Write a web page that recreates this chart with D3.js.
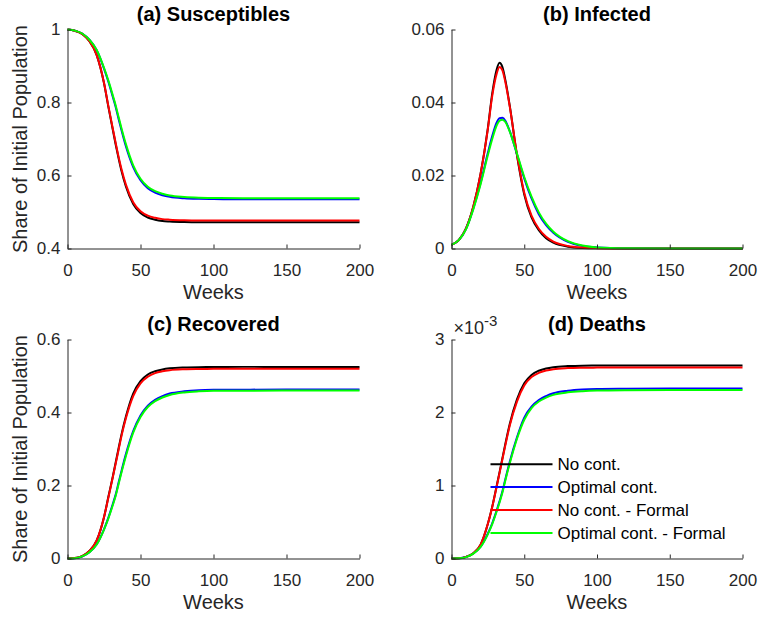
<!DOCTYPE html>
<html>

<head>
	<title>Epidemic paths</title>
	<meta charset="utf-8">
	<script src="https://cdn.jsdelivr.net/npm/d3@7"></script>
</head>

<style>
	body {
		margin: 0;
		background: #fff;
	}

	text {
		font-family: "Liberation Sans", Arial, Helvetica, sans-serif;
	}

	.axis path,
	.axis line {
		stroke: #262626;
		stroke-width: 1;
	}

	.axis text {
		font-size: 17px;
		fill: #262626;
	}

	.curve {
		fill: none;
		stroke-width: 2;
	}

	.title {
		font-size: 20px;
		font-weight: bold;
		text-anchor: middle;
		fill: #000;
	}

	.label {
		font-size: 20px;
		fill: #262626;
		text-anchor: middle;
	}

	.legend text {
		font-size: 17px;
		fill: #000;
	}
</style>

<body>
	<svg width="759" height="620"></svg>

	<script>
		var weeks = [0, 5, 10, 15, 20, 25, 28, 31, 33, 35, 37, 40, 45, 50, 55, 60, 65, 70, 80, 90, 100, 120, 150, 200];
		var weekTicks = [0, 50, 100, 150, 200];

		var seriesNames = ['No cont.', 'Optimal cont.', 'No cont. - Formal', 'Optimal cont. - Formal'];
		var seriesColors = ['#000000', '#0000ff', '#ff0000', '#00ff00'];

		// (a) susceptibles, share of initial population
		var susNoCont = [1.000, 0.9965, 0.988, 0.968, 0.930, 0.853, 0.788, 0.726, 0.685, 0.647, 0.612, 0.570, 0.522, 0.497, 0.485, 0.479, 0.4755, 0.474, 0.4725, 0.472, 0.472, 0.472, 0.472, 0.472];
		var susOptimal = [1.000, 0.997, 0.989, 0.972, 0.943, 0.893, 0.857, 0.816, 0.788, 0.755, 0.724, 0.680, 0.623, 0.587, 0.565, 0.553, 0.546, 0.5415, 0.5375, 0.536, 0.5355, 0.535, 0.535, 0.535];
		var susNoContFormal = [1.000, 0.9965, 0.988, 0.968, 0.930, 0.854, 0.790, 0.729, 0.689, 0.651, 0.617, 0.575, 0.527, 0.502, 0.490, 0.484, 0.4805, 0.479, 0.4775, 0.477, 0.477, 0.477, 0.477, 0.477];
		var susOptimalFormal = [1.000, 0.997, 0.989, 0.972, 0.944, 0.895, 0.860, 0.820, 0.792, 0.760, 0.729, 0.686, 0.628, 0.591, 0.569, 0.557, 0.550, 0.545, 0.541, 0.5392, 0.5385, 0.538, 0.538, 0.538];

		// (b) infected
		var infNoCont = [0.0010, 0.0023, 0.0055, 0.0115, 0.0205, 0.0330, 0.0425, 0.0490, 0.0509, 0.0497, 0.0462, 0.0392, 0.0255, 0.0148, 0.0085, 0.0050, 0.0028, 0.0016, 0.0005, 0.00015, 0.00005, 0, 0, 0];
		var infOptimal = [0.0010, 0.0023, 0.0054, 0.0110, 0.0180, 0.0262, 0.0308, 0.0345, 0.0357, 0.0358, 0.0350, 0.0322, 0.0258, 0.0192, 0.0137, 0.0094, 0.0064, 0.0043, 0.0018, 0.0007, 0.0003, 0.00005, 0, 0];
		var infNoContFormal = [0.0010, 0.0023, 0.0055, 0.0115, 0.0205, 0.0328, 0.0418, 0.0478, 0.0497, 0.0488, 0.0456, 0.0390, 0.0258, 0.0153, 0.0090, 0.0054, 0.0032, 0.0019, 0.0007, 0.00025, 0.0001, 0.00001, 0, 0];
		var infOptimalFormal = [0.0010, 0.0023, 0.0053, 0.0108, 0.0176, 0.0256, 0.0300, 0.0337, 0.0350, 0.0353, 0.0347, 0.0321, 0.0260, 0.0196, 0.0142, 0.0099, 0.0068, 0.0046, 0.0020, 0.0008, 0.0003, 0.00006, 0, 0];

		// (c) recovered
		var recNoCont = [0, 0.0012, 0.0065, 0.0204, 0.0494, 0.113, 0.169, 0.224, 0.263, 0.302, 0.340, 0.389, 0.452, 0.486, 0.504, 0.513, 0.518, 0.521, 0.5235, 0.5243, 0.5245, 0.525, 0.525, 0.525];
		var recOptimal = [0, 0.0007, 0.0056, 0.017, 0.039, 0.080, 0.112, 0.149, 0.175, 0.208, 0.240, 0.286, 0.349, 0.392, 0.419, 0.435, 0.445, 0.452, 0.458, 0.461, 0.462, 0.4625, 0.463, 0.463];
		var recNoContFormal = [0, 0.0012, 0.0065, 0.0204, 0.0494, 0.113, 0.167, 0.222, 0.260, 0.298, 0.336, 0.384, 0.445, 0.480, 0.498, 0.508, 0.513, 0.516, 0.5185, 0.5193, 0.5196, 0.520, 0.520, 0.520];
		var recOptimalFormal = [0, 0.0007, 0.0057, 0.0172, 0.0384, 0.0794, 0.110, 0.146, 0.172, 0.204, 0.236, 0.281, 0.345, 0.388, 0.415, 0.431, 0.441, 0.448, 0.455, 0.458, 0.4595, 0.4598, 0.460, 0.460];

		// (d) deaths, in units of 10^-3 of initial population
		var deathsNoCont = [0, 0.003, 0.023, 0.073, 0.19, 0.475, 0.71, 0.99, 1.18, 1.375, 1.57, 1.84, 2.18, 2.40, 2.515, 2.572, 2.603, 2.621, 2.636, 2.642, 2.643, 2.645, 2.645, 2.645];
		var deathsOptimal = [0, 0.002, 0.02, 0.068, 0.163, 0.342, 0.483, 0.656, 0.782, 0.92, 1.087, 1.323, 1.66, 1.93, 2.08, 2.17, 2.225, 2.264, 2.299, 2.316, 2.323, 2.327, 2.33, 2.33];
		var deathsNoContFormal = [0, 0.003, 0.023, 0.073, 0.19, 0.475, 0.705, 0.98, 1.17, 1.36, 1.55, 1.82, 2.15, 2.37, 2.485, 2.543, 2.575, 2.594, 2.608, 2.613, 2.615, 2.617, 2.617, 2.617];
		var deathsOptimalFormal = [0, 0.002, 0.019, 0.066, 0.158, 0.334, 0.472, 0.643, 0.768, 0.905, 1.07, 1.30, 1.64, 1.90, 2.06, 2.15, 2.205, 2.242, 2.276, 2.292, 2.30, 2.305, 2.307, 2.307];

		var susTicks = [0.4, 0.6, 0.8, 1];
		var infTicks = [0, 0.02, 0.04, 0.06];
		var recTicks = [0, 0.2, 0.4, 0.6];
		var deathTicks = [0, 1, 2, 3];

		var panels = [
			{ title: '(a) Susceptibles', col: 0, row: 0, ticks: susTicks, ylabel: true,
				series: [susNoCont, susOptimal, susNoContFormal, susOptimalFormal] },
			{ title: '(b) Infected', col: 1, row: 0, ticks: infTicks, ylabel: false,
				series: [infNoCont, infOptimal, infNoContFormal, infOptimalFormal] },
			{ title: '(c) Recovered', col: 0, row: 1, ticks: recTicks, ylabel: true,
				series: [recNoCont, recOptimal, recNoContFormal, recOptimalFormal] },
			{ title: '(d) Deaths', col: 1, row: 1, ticks: deathTicks, ylabel: false, exponent: true, legend: true,
				series: [deathsNoCont, deathsOptimal, deathsNoContFormal, deathsOptimalFormal] }
		];

		var cols = [{ x: 67, w: 292 }, { x: 451, w: 291 }];
		var rows = [{ y: 29, h: 219 }, { y: 339, h: 219 }];

		var svg = d3.select('svg');
		var fmt = d3.format('~g');

		panels.forEach(function(p) {
			var c = cols[p.col],
				r = rows[p.row];

			var x = d3.scaleLinear()
				.domain([0, 200])
				.range([0, c.w]);

			var y = d3.scaleLinear()
				.domain(d3.extent(p.ticks))
				.range([r.h, 0]);

			var g = svg.append('g')
				.attr('transform', 'translate(' + (c.x + 0.5) + ',' + (r.y + 0.5) + ')');

			// curves, in legend order so green ends on top
			var line = d3.line()
				.x(function(d) { return x(d[0]); })
				.y(function(d) { return y(d[1]); })
				.curve(d3.curveMonotoneX);

			g.selectAll('path.curve')
				.data(p.series)
				.enter()
				.append('path')
				.attr('class', 'curve')
				.attr('stroke', function(d, i) { return seriesColors[i]; })
				.attr('d', function(d) {
					return line(weeks.map(function(w, i) { return [w, d[i]]; }));
				});

			// axes, ticks pointing inwards like matlab
			g.append('g')
				.attr('class', 'axis')
				.attr('transform', 'translate(0,' + r.h + ')')
				.call(d3.axisBottom(x)
					.tickValues(weekTicks)
					.tickSizeInner(-4)
					.tickSizeOuter(0)
					.tickPadding(15)
					.tickFormat(fmt));

			g.append('g')
				.attr('class', 'axis')
				.call(d3.axisLeft(y)
					.tickValues(p.ticks)
					.tickSizeInner(-4)
					.tickSizeOuter(0)
					.tickPadding(7)
					.tickFormat(fmt));

			g.selectAll('.axis .domain').attr('fill', 'none');

			g.append('text')
				.attr('class', 'title')
				.attr('x', c.w / 2)
				.attr('y', -8.5)
				.text(p.title);

			g.append('text')
				.attr('class', 'label')
				.attr('x', c.w / 2)
				.attr('y', r.h + 50)
				.text('Weeks');

			if (p.ylabel) {
				g.append('text')
					.attr('class', 'label')
					.attr('transform', 'translate(' + (26.5 - c.x) + ',' + (r.h / 2) + ') rotate(-90)')
					.text('Share of Initial Population');
			}

			if (p.exponent) {
				var ex = g.append('text')
					.attr('x', 2)
					.attr('y', -5.5)
					.attr('fill', '#262626')
					.style('font-size', '18px');
				ex.append('tspan').text('\u00d710');
				ex.append('tspan')
					.attr('dy', -8)
					.style('font-size', '15px')
					.text('-3');
			}

			if (p.legend) {
				var leg = g.append('g')
					.attr('class', 'legend')
					.attr('transform', 'translate(39,124.7)');

				var item = leg.selectAll('g')
					.data(seriesNames)
					.enter()
					.append('g')
					.attr('transform', function(d, i) { return 'translate(0,' + (i * 22.9) + ')'; });

				item.append('line')
					.attr('x1', 0)
					.attr('x2', 62)
					.attr('stroke', function(d, i) { return seriesColors[i]; })
					.attr('stroke-width', 2);

				item.append('text')
					.attr('x', 67)
					.attr('dy', '0.35em')
					.text(function(d) { return d; });
			}
		});
	</script>
</body>

</html>
